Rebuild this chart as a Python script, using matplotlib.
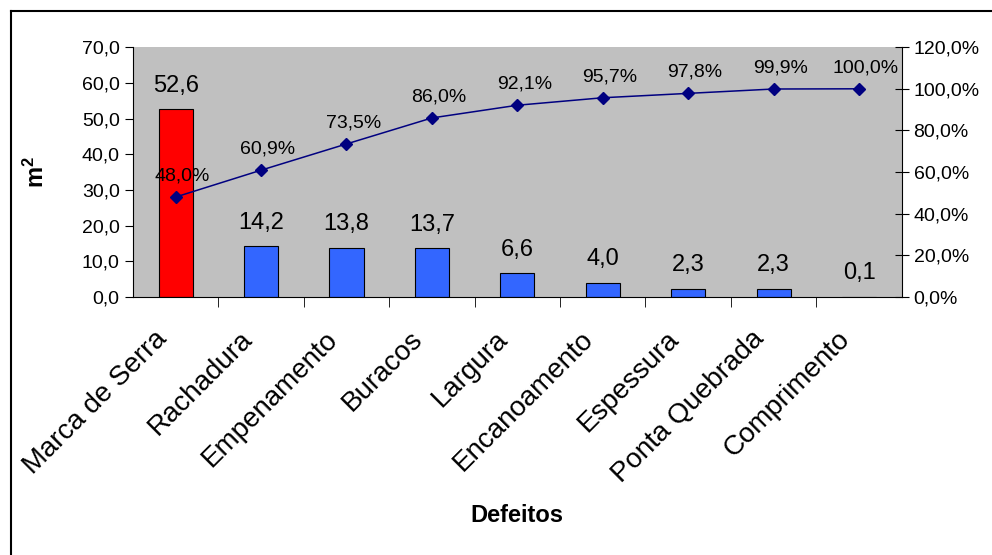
import matplotlib
matplotlib.use('Agg')
import matplotlib.pyplot as plt
import matplotlib.transforms as mtransforms
from matplotlib.lines import Line2D
import numpy as np

plt.rcParams['font.family'] = ['Liberation Sans', 'DejaVu Sans']
plt.rcParams['mathtext.fontset'] = 'custom'
plt.rcParams['mathtext.rm'] = 'Liberation Sans'
plt.rcParams['mathtext.bf'] = 'Liberation Sans:bold'

# data
categories = ['Marca de Serra', 'Rachadura', 'Empenamento', 'Buracos', 'Largura',
              'Encanoamento', 'Espessura', 'Ponta Quebrada', 'Comprimento']
area_m2 = [52.6, 14.2, 13.8, 13.7, 6.6, 4.0, 2.3, 2.3, 0.1]
cum_pct = [48.0, 60.9, 73.5, 86.0, 92.1, 95.7, 97.8, 99.9, 100.0]
left_ticks = [0, 10, 20, 30, 40, 50, 60, 70]
right_ticks = [0, 20, 40, 60, 80, 100, 120]


def br(v, dec=1):
    return f'{v:.{dec}f}'.replace('.', ',')


fig = plt.figure(figsize=(9.92, 5.55), dpi=100)
ax = fig.add_axes([0.134, 0.465, 0.775, 0.450])
ax.set_facecolor('#C0C0C0')

x = np.arange(len(categories))
colors = ['#FF0000'] + ['#3366FF'] * (len(categories) - 1)
ax.bar(x, area_m2, width=0.4, color=colors, edgecolor='black', linewidth=0.8, zorder=2)
for xi, v in zip(x, area_m2):
    ax.annotate(br(v), (xi, v), xytext=(0, 9), textcoords='offset points',
                ha='center', va='bottom', fontsize=17)

ax.set_xlim(-0.5, len(categories) - 0.5)
ax.set_ylim(0, 70)
ax.set_yticks(left_ticks)
ax.set_yticklabels([br(v) for v in left_ticks], fontsize=14)
ax.set_xticks(x)
ax.set_xticklabels(categories, rotation=45, ha='right', rotation_mode='anchor', fontsize=20)
ax.tick_params(axis='x', which='major', length=0, pad=21)
shift = mtransforms.ScaledTranslation(-16 / 72, 0, fig.dpi_scale_trans)
for lbl in ax.get_xticklabels():
    lbl.set_transform(lbl.get_transform() + shift)
ax.set_xticks(np.arange(0.5, len(categories) - 0.5, 1), minor=True)
ax.tick_params(axis='x', which='minor', length=7, direction='out')
ax.tick_params(axis='y', length=6, direction='out')
for s in ['top', 'right']:
    ax.spines[s].set_visible(False)

ax2 = ax.twinx()
ax2.plot(x, cum_pct, color='#000080', marker='D', markersize=6, linewidth=1.1, zorder=3)
for xi, v in zip(x, cum_pct):
    ax2.annotate(br(v) + '%', (xi, v), xytext=(5, 9), textcoords='offset points',
                 ha='center', va='bottom', fontsize=14)
ax2.set_ylim(0, 120)
ax2.set_yticks(right_ticks)
ax2.set_yticklabels([br(v) + '%' for v in right_ticks], fontsize=14)
ax2.tick_params(axis='y', length=10, direction='inout')
for s in ['top', 'left', 'bottom']:
    ax2.spines[s].set_visible(False)

fig.text(0.037, 0.69, r'$\mathbf{m^2}$', rotation=90, ha='center', va='center', fontsize=17)
fig.text(0.521, 0.072, 'Defeitos', ha='center', va='center', fontsize=17, fontweight='bold')

# outer frame (top and left edges)
fig.add_artist(Line2D([0.011, 1.0], [0.980, 0.980], color='black', linewidth=1.5))
fig.add_artist(Line2D([0.011, 0.011], [0.0, 0.980], color='black', linewidth=1.5))

fig.savefig('out.png', dpi=100)
